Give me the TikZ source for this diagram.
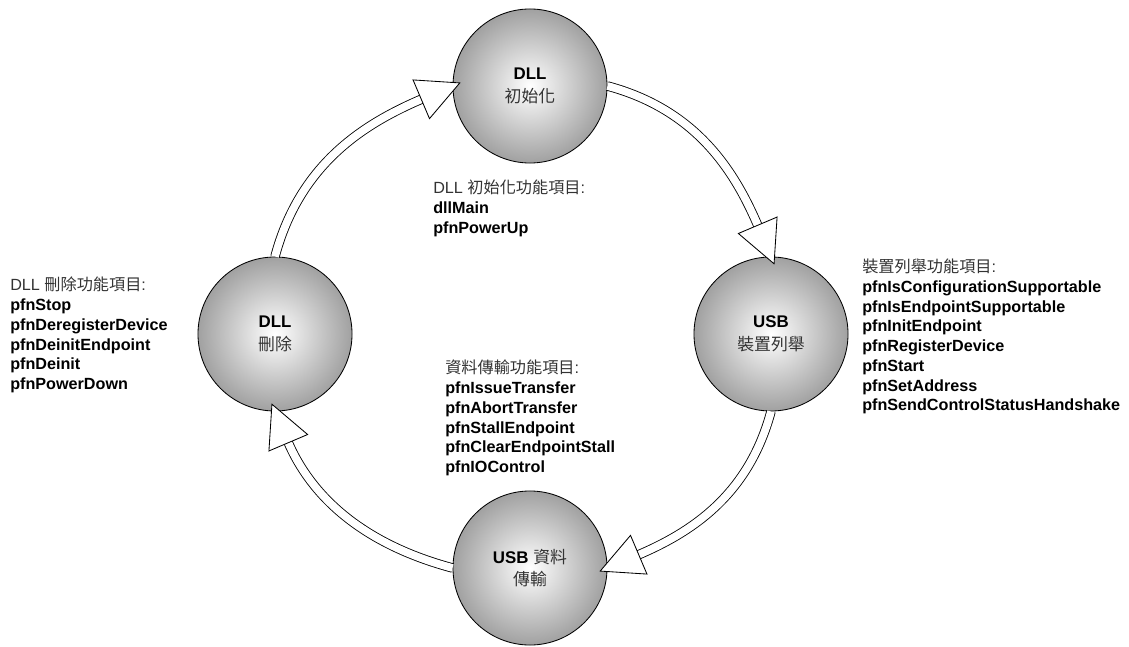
\documentclass[tikz,border=0pt]{standalone}
\usepackage{fontspec}
\setmainfont{Liberation Sans}
\newfontfamily\cjk{Noto Sans CJK TC}
\usepackage{tikz}
\usetikzlibrary{arrows.meta, positioning}
\definecolor{zhgray}{gray}{0.2}
\definecolor{ballrim}{gray}{0.63}
\newcommand{\zh}[1]{{\mdseries\cjk\color{zhgray}#1}}
\newcommand{\fnhead}[1]{{\mdseries\color{zhgray}#1}}
\tikzset{
  ball/.style={circle, draw, line width=0.6pt, minimum size=3.85cm, inner sep=0pt,
    shade, shading=radial, inner color=white, outer color=ballrim, align=center,
    font=\fontsize{12}{16}\selectfont\bfseries},
  fnlist/.style={anchor=north west, inner sep=0pt, align=left,
    font=\fontsize{11.5}{14}\selectfont\bfseries},
  ring/.style={draw, line width=0.6pt, double=white, double distance=5.5pt, shorten >=0.8cm},
  ringtip/.style={tips, line width=0.6pt, shorten >=-0.22cm,
    -{Triangle[length=1.08cm, width=1.08cm, fill=white]}},
}
\begin{document}
\begin{tikzpicture}[x=0.025cm, y=0.025cm]
  \useasboundingbox (0,0) rectangle (1129,646);
  \node[ball] (init) at (530,560) {DLL\\\zh{初始化}};
  \node[ball] (enum) at (771,312) {USB\\\zh{裝置列舉}};
  \node[ball] (xfer) at (530,78) {USB \zh{資料}\\\zh{傳輸}};
  \node[ball] (unload) at (275,312) {DLL\\\zh{刪除}};

  \node[fnlist] (initfn) at (433,466) {\fnhead{DLL \zh{初始化功能項目}:}\\dllMain\\pfnPowerUp};
  \node[fnlist] (enumfn) at (862,387) {\fnhead{\zh{裝置列舉功能項目}:}\\pfnIsConfigurationSupportable\\
    pfnIsEndpointSupportable\\pfnInitEndpoint\\pfnRegisterDevice\\pfnStart\\pfnSetAddress\\
    pfnSendControlStatusHandshake};
  \node[fnlist] (xferfn) at (445,286) {\fnhead{\zh{資料傳輸功能項目}:}\\pfnIssueTransfer\\
    pfnAbortTransfer\\pfnStallEndpoint\\pfnClearEndpointStall\\pfnIOControl};
  \node[fnlist] (unloadfn) at (10,369) {\fnhead{DLL \zh{刪除功能項目}:}\\pfnStop\\
    pfnDeregisterDevice\\pfnDeinitEndpoint\\pfnDeinit\\pfnPowerDown};

  \draw[ring] (unload.north) to[out=75, in=203] (init.west);
  \path[ringtip] (unload.north) to[out=75, in=203] (init.west);
  \draw[ring] (init.east) to[out=-15, in=113] (enum.north);
  \path[ringtip] (init.east) to[out=-15, in=113] (enum.north);
  \draw[ring] (enum.south) to[out=-105, in=23] (xfer.east);
  \path[ringtip] (enum.south) to[out=-105, in=23] (xfer.east);
  \draw[ring] (xfer.west) to[out=165, in=-67] (unload.south);
  \path[ringtip] (xfer.west) to[out=165, in=-67] (unload.south);
\end{tikzpicture}
\end{document}
